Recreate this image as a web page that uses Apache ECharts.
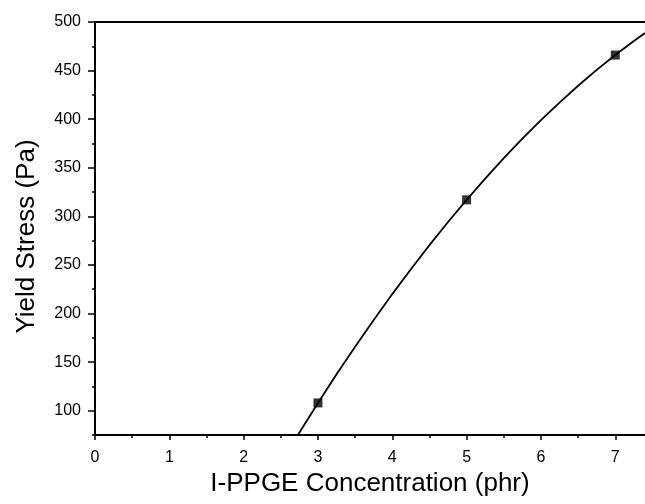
<!DOCTYPE html>
<html>
<head>
<meta charset="utf-8">
<script src="https://cdn.jsdelivr.net/npm/echarts@6/dist/echarts.min.js"></script>
<style>html,body{margin:0;padding:0;background:#fff}#c{width:645px;height:504px}</style>
</head>
<body>
<div id="c"></div>
<script>
// measured points
var concX = [3, 5, 7];
var stressY = [108, 317, 466];
// fitted curve
var fitX = [2.73, 3.0, 3.25, 3.5, 3.75, 4.0, 4.25, 4.5, 4.75, 5.0, 5.25, 5.5, 5.75, 6.0, 6.25, 6.5, 6.75, 7.0, 7.25, 7.4];
var fitY = [75, 108, 137.4, 165.9, 193.4, 220, 245.6, 270.4, 294.2, 317, 338.9, 359.9, 379.9, 399, 417.1, 434.4, 450.7, 466, 480.4, 488.6];
var xTicks = [0, 1, 2, 3, 4, 5, 6, 7];
var yTicks = [100, 150, 200, 250, 300, 350, 400, 450, 500];
var yMinorTicks = [75, 125, 175, 225, 275, 325, 375, 425, 475];

var font = 'Liberation Sans, Arial, sans-serif';
var chart = echarts.init(document.getElementById('c'));
chart.setOption({
  animation: false,
  backgroundColor: '#fff',
  grid: {left: 95, right: 0, top: 22, bottom: 69},
  xAxis: [{
    type: 'value', min: 0, max: 7.4, interval: 1,
    name: 'I-PPGE Concentration (phr)', nameLocation: 'middle', nameGap: 35,
    nameTextStyle: {fontFamily: font, fontSize: 26, color: '#000'},
    axisLine: {show: true, onZero: false, lineStyle: {color: '#000', width: 2}},
    axisTick: {show: true, length: 5, lineStyle: {color: '#000', width: 1.5},
      customValues: xTicks},
    minorTick: {show: true, splitNumber: 2, length: 3, lineStyle: {color: '#000', width: 1.5}},
    axisLabel: {fontFamily: font, fontSize: 16, color: '#000', margin: 15,
      customValues: xTicks},
    splitLine: {show: false}, minorSplitLine: {show: false}
  }, {
    type: 'value', position: 'top', min: 0, max: 7.4,
    axisLine: {show: true, onZero: false, lineStyle: {color: '#000', width: 2}},
    axisTick: {show: false}, axisLabel: {show: false}, splitLine: {show: false}
  }],
  yAxis: [{
    type: 'value', min: 75, max: 500,
    name: 'Yield Stress (Pa)', nameLocation: 'middle', nameGap: 55,
    nameTextStyle: {fontFamily: font, fontSize: 26, color: '#000', padding: [0, 16, 0, 0]},
    axisLine: {show: true, onZero: false, lineStyle: {color: '#000', width: 2}},
    axisTick: {show: true, length: 7, lineStyle: {color: '#000', width: 1.5},
      customValues: yTicks},
    axisLabel: {fontFamily: font, fontSize: 16, color: '#000', margin: 14,
      customValues: yTicks},
    splitLine: {show: false}
  }, {
    type: 'value', min: 75, max: 500, position: 'left',
    axisLine: {show: false},
    axisTick: {show: true, length: 3, lineStyle: {color: '#000', width: 1.5},
      customValues: yMinorTicks},
    axisLabel: {show: false}, splitLine: {show: false}
  }],
  series: [{
    type: 'line', xAxisIndex: 0, yAxisIndex: 0,
    data: fitX.map(function (x, i) { return [x, fitY[i]]; }),
    smooth: false, showSymbol: false, symbol: 'none',
    lineStyle: {color: '#000', width: 1.8}, clip: true, z: 2
  }, {
    type: 'scatter', xAxisIndex: 0, yAxisIndex: 0,
    data: concX.map(function (x, i) { return [x, stressY[i]]; }),
    symbol: 'rect', symbolSize: 9, itemStyle: {color: '#000'}, z: 3
  }]
});
</script>
</body>
</html>
